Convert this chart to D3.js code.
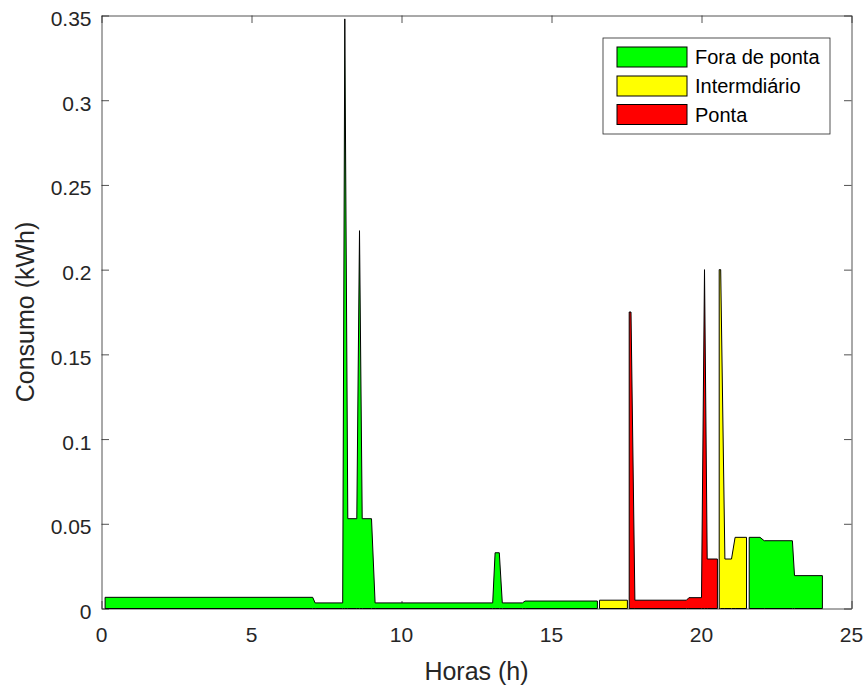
<!DOCTYPE html>
<html>
<head>
<meta charset="utf-8">
<script src="https://cdn.jsdelivr.net/npm/d3@7"></script>
<style>
  body { margin: 0; background: #fff; }
  svg { display: block; }
  text { font-family: "Liberation Sans", Arial, Helvetica, sans-serif; fill: #262626; }
</style>
</head>
<body>
<svg id="chart" width="866" height="686"></svg>
<script>
// Eixos
const xTicks = [0, 5, 10, 15, 20, 25];
const yTicks = [0, 0.05, 0.1, 0.15, 0.2, 0.25, 0.3, 0.35];
const yTickLabels = ["0", "0.05", "0.1", "0.15", "0.2", "0.25", "0.3", "0.35"];

// Fora de ponta: madrugada até o fim da tarde
const foraHoras1 = [0.12, 7.04, 7.12, 8.04, 8.11, 8.21, 8.51, 8.6, 8.69, 9.0, 9.12,
                    13.04, 13.12, 13.26, 13.36, 14.03, 14.12, 16.53];
const foraCons1  = [0.0066, 0.0066, 0.0033, 0.0033, 0.348, 0.053, 0.053, 0.223, 0.053, 0.053, 0.0033,
                    0.0033, 0.0329, 0.0329, 0.0033, 0.0033, 0.0044, 0.0044];

// Intermediário antes da ponta
const interHoras1 = [16.6, 17.53];
const interCons1  = [0.0049, 0.0049];

// Ponta
const pontaHoras = [17.59, 17.65, 17.78, 19.5, 19.58, 20.0, 20.1, 20.19, 20.53];
const pontaCons  = [0.175, 0.175, 0.0049, 0.0049, 0.0064, 0.0064, 0.2, 0.0292, 0.0292];

// Intermediário depois da ponta
const interHoras2 = [20.59, 20.64, 20.78, 21.0, 21.12, 21.5];
const interCons2  = [0.2, 0.2, 0.0292, 0.0292, 0.042, 0.042];

// Fora de ponta: noite
const foraHoras2 = [21.59, 21.95, 22.09, 23.03, 23.1, 24.03];
const foraCons2  = [0.042, 0.042, 0.040, 0.040, 0.0194, 0.0194];

const seriesNames  = ["Fora de ponta", "Intermdiário", "Ponta"];
const seriesColors = ["#00ff00", "#ffff00", "#ff0000"];

const svg = d3.select("#chart");
const margin = { left: 101.5, right: 866 - 851.5, top: 15.5, bottom: 686 - 608.5 };
const W = 866, H = 686;

const x = d3.scaleLinear().domain([0, 25]).range([margin.left, W - margin.right]);
const y = d3.scaleLinear().domain([0, 0.35]).range([H - margin.bottom, margin.top]);

const axisColor = "#262626";
const tickLen = 7.5;

// Caixa e marcas (ficam por baixo das áreas)
const axesG = svg.append("g");
axesG.append("g")
  .attr("transform", `translate(0,${y(0)})`)
  .call(d3.axisBottom(x).tickValues(xTicks).tickSizeInner(-tickLen).tickSizeOuter(0).tickFormat(""))
  .call(g => g.selectAll("line,path").attr("stroke", axisColor).attr("stroke-width", 0.8));
axesG.append("g")
  .attr("transform", `translate(0,${y(0.35)})`)
  .call(d3.axisTop(x).tickValues(xTicks).tickSizeInner(-tickLen).tickSizeOuter(0).tickFormat(""))
  .call(g => g.selectAll("line,path").attr("stroke", axisColor).attr("stroke-width", 0.8));
axesG.append("g")
  .attr("transform", `translate(${x(0)},0)`)
  .call(d3.axisLeft(y).tickValues(yTicks).tickSizeInner(-tickLen).tickSizeOuter(0).tickFormat(""))
  .call(g => g.selectAll("line,path").attr("stroke", axisColor).attr("stroke-width", 0.8));
axesG.append("g")
  .attr("transform", `translate(${x(25)},0)`)
  .call(d3.axisRight(y).tickValues(yTicks).tickSizeInner(-tickLen).tickSizeOuter(0).tickFormat(""))
  .call(g => g.selectAll("line,path").attr("stroke", axisColor).attr("stroke-width", 0.8));

// Rótulos dos ticks
svg.append("g").selectAll("text").data(xTicks).join("text")
  .attr("x", d => x(d)).attr("y", y(0) + 33.5)
  .attr("text-anchor", "middle").attr("font-size", 21)
  .text(d => d);
svg.append("g").selectAll("text").data(yTicks).join("text")
  .attr("x", x(0) - 10).attr("y", d => y(d) + 10.5)
  .attr("text-anchor", "end").attr("font-size", 21)
  .text((d, i) => yTickLabels[i]);

// Títulos dos eixos
svg.append("text")
  .attr("x", (x(0) + x(25)) / 2).attr("y", 680)
  .attr("text-anchor", "middle").attr("font-size", 25)
  .text("Horas (h)");
svg.append("text")
  .attr("transform", `translate(34,${(y(0) + y(0.35)) / 2}) rotate(-90)`)
  .attr("text-anchor", "middle").attr("font-size", 25)
  .text("Consumo (kWh)");

// Áreas de consumo por posto tarifário
const area = d3.area()
  .x(d => x(d[0]))
  .y0(y(0))
  .y1(d => y(d[1]));

const patches = [
  { t: foraHoras1,  v: foraCons1,  c: 0 },
  { t: interHoras1, v: interCons1, c: 1 },
  { t: pontaHoras,  v: pontaCons,  c: 2 },
  { t: interHoras2, v: interCons2, c: 1 },
  { t: foraHoras2,  v: foraCons2,  c: 0 }
];

svg.append("g").selectAll("path").data(patches).join("path")
  .attr("d", p => area(p.t.map((t, i) => [t, p.v[i]])))
  .attr("fill", p => seriesColors[p.c])
  .attr("stroke", "#000")
  .attr("stroke-width", 1)
  .attr("stroke-linejoin", "miter");

// Legenda
const leg = svg.append("g");
leg.append("rect")
  .attr("x", 603).attr("y", 38).attr("width", 227).attr("height", 96)
  .attr("fill", "#fff").attr("stroke", axisColor).attr("stroke-width", 0.8);
const rowY = [57, 86, 114.5];
seriesNames.forEach((name, i) => {
  leg.append("rect")
    .attr("x", 617).attr("y", rowY[i] - 10).attr("width", 70).attr("height", 20)
    .attr("fill", seriesColors[i]).attr("stroke", "#000").attr("stroke-width", 1);
  leg.append("text")
    .attr("x", 695).attr("y", rowY[i] + 7)
    .attr("font-size", 20)
    .style("fill", "#000")
    .text(name);
});
</script>
</body>
</html>
